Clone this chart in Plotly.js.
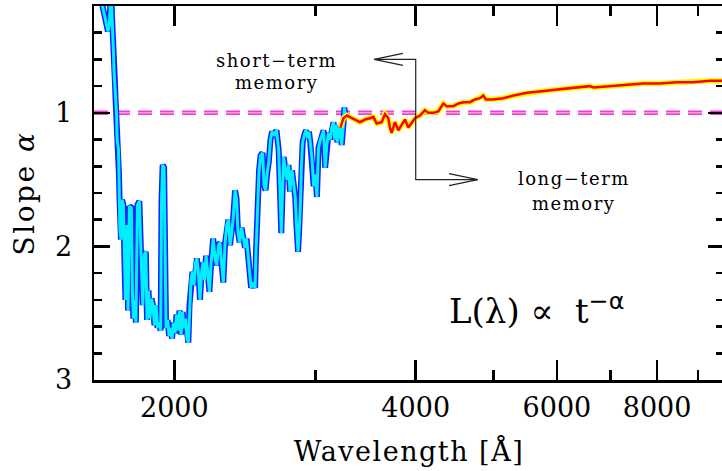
<!DOCTYPE html>
<html>
<head>
<meta charset="utf-8">
<script src="https://cdn.plot.ly/plotly-3.0.1.min.js"></script>
<style>
html,body{margin:0;padding:0;overflow:hidden;background:#fff;}
#chart{width:724px;height:471px;}
</style>
</head>
<body>
<div id="chart"></div>
<script>
// UV part of the slope spectrum (blue/cyan)
const blueWave = [1611,1630,1644,1653,1660,1663,1668,1672,1675,1680,1682,1687,1689,1694,1697,1704,1706,1709,1711,1716,
1721,1728,1733,1738,1746,1751,1758,1768,1773,1778,1786,1791,1799,1809,1817,1827,1835,1843,1849,1857,
1865,1873,1881,1889,1898,1906,1914,1923,1928,1934,1942,1948,1953,1962,1970,1978,1987,1995,2004,2013,
2021,2030,2039,2048,2056,2065,2074,2082,2089,2098,2107,2116,2125,2134,2144,2153,2162,2172,2181,2191,
2200,2212,2223,2236,2248,2259,2271,2280,2290,2302,2314,2325,2336,2347,2357,2368,2381,2391,2401,2412,
2426,2436,2450,2461,2474,2486,2493,2508,2522,2529,2540,2551,2562,2577,2588,2599,2610,2623,2636,2648,
2663,2682,2699,2709,2719,2728,2738,2752,2764,2776,2788,2804,2816,2830,2840,2853,2862,2872,2881,2891,
2907,2919,2932,2944,2955,2970,2984,2999,3012,3026,3042,3055,3070,3084,3099,3114,3130,3143,3159,3171,
3184,3193,3207,3218,3226,3234,3250,3259,3266];
const blueAlpha = [0.08,0.23,0.34,0.39,0.34,0.12,0.04,0.27,0.47,0.57,0.69,0.79,0.88,1.00,1.20,1.28,1.46,1.65,1.88,1.95,
1.65,1.69,2.10,2.40,1.84,2.48,1.70,1.71,2.33,2.54,2.40,2.57,1.69,1.66,2.03,2.44,2.06,2.04,2.55,2.33,
2.54,2.39,2.44,2.59,2.44,2.61,2.57,2.63,1.65,1.39,1.41,2.33,2.61,2.55,2.67,2.61,2.69,2.57,2.65,2.51,
2.63,2.48,2.66,2.49,2.61,2.54,2.69,2.72,2.44,2.25,2.19,2.29,2.12,2.09,2.21,2.40,2.21,2.12,2.25,2.07,
2.18,2.34,2.12,1.94,2.09,2.14,1.99,1.97,2.12,2.27,1.97,1.84,1.80,1.99,1.91,1.79,1.58,1.64,1.89,1.97,
1.86,1.92,2.01,1.94,2.09,2.21,2.31,2.27,2.31,2.03,1.64,1.43,1.32,1.30,1.54,1.58,1.46,1.37,1.20,1.14,
1.17,1.13,1.28,1.58,1.90,1.61,1.33,1.44,1.50,1.39,1.59,1.43,1.54,1.63,1.84,2.04,1.88,1.70,1.39,1.22,
1.16,1.13,1.19,1.14,1.22,1.35,1.55,1.46,1.63,1.26,1.20,1.16,1.13,1.41,1.24,1.15,1.20,1.11,1.07,1.20,
1.09,1.22,1.13,1.11,1.16,1.24,1.09,0.96,1.01];

// optical part (red/yellow)
const redWave = [3223,3250,3283,3312,3360,3408,3458,3508,3542,3576,3627,3662,3697,3715,3733,3769,3805,3842,3879,3916,
3954,3992,4049,4107,4147,4206,4268,4330,4373,4457,4523,4589,4675,4741,4811,4856,4894,4996,5144,5299,
5508,5715,5882,6172,6411,6589,6668,6988,7330,7689,8066,8463,8878,9311,9780];
const redAlpha = [1.11,1.04,1.02,1.03,1.05,1.07,1.05,1.04,1.03,1.08,1.07,1.01,1.04,1.11,1.15,1.07,1.13,1.09,1.05,1.11,
1.07,1.04,1.02,0.98,1.00,1.00,0.99,0.93,0.95,0.95,0.93,0.92,0.92,0.90,0.89,0.87,0.90,0.90,0.89,0.87,
0.85,0.84,0.83,0.82,0.81,0.80,0.81,0.80,0.79,0.78,0.78,0.77,0.77,0.76,0.76];

// axes
const xRange = [1588, 9694];
const yRange = [3, 0.2];
const xMajorTicks = [2000, 4000, 6000, 8000];
const xTickLabels = ['2000', '4000', '6000', '8000'];
const xMinorTicks = [3000, 5000, 7000, 9000];
const yMajorTicks = [1, 2, 3];
const yTickLabels = ['1', '2', '3'];
const yMinorTicks = [0.4, 0.6, 0.8, 1.2, 1.4, 1.6, 1.8, 2.2, 2.4, 2.6, 2.8];

// reference line alpha = 1
const refAlpha = 1;

// memory bracket with arrows
const bracketWave = [3550, 4000, 4000, 4780];
const bracketAlpha = [0.6, 0.6, 1.5, 1.5];
const leftHeadWave = [3856, 3550, 3856];
const leftHeadAlpha = [0.555, 0.6, 0.645];
const rightHeadWave = [4401, 4780, 4401];
const rightHeadAlpha = [1.455, 1.5, 1.545];

const SERIF = 'DejaVu Serif';
const ls = (t, s) => '<span style="letter-spacing:' + s + 'px">' + t + '</span>';

const traces = [
  {x: [xRange[0], xRange[1]], y: [refAlpha, refAlpha], mode: 'lines',
   line: {color: '#ee3ae0', width: 4.5, dash: '14px,8px'}, hoverinfo: 'skip'},
  {x: [xRange[0], xRange[1]], y: [refAlpha, refAlpha], mode: 'lines',
   line: {color: '#ff9ed0', width: 1.5, dash: '14px,8px'}, hoverinfo: 'skip'},
  {x: blueWave, y: blueAlpha, mode: 'lines', line: {color: '#1020ff', width: 6}, hoverinfo: 'skip'},
  {x: blueWave, y: blueAlpha, mode: 'lines', line: {color: '#00f0ff', width: 3}, hoverinfo: 'skip'},
  {x: redWave, y: redAlpha, mode: 'lines', line: {color: '#ffff00', width: 5.5}, hoverinfo: 'skip'},
  {x: redWave, y: redAlpha, mode: 'lines', line: {color: '#ff0000', width: 2.5}, hoverinfo: 'skip'},
  {x: bracketWave, y: bracketAlpha, mode: 'lines', line: {color: '#222', width: 1.2}, hoverinfo: 'skip'},
  {x: leftHeadWave, y: leftHeadAlpha, mode: 'lines', line: {color: '#222', width: 1.2}, hoverinfo: 'skip'},
  {x: rightHeadWave, y: rightHeadAlpha, mode: 'lines', line: {color: '#222', width: 1.2}, hoverinfo: 'skip'}
];

const ann = (xw, ya, text, size) => ({
  x: Math.log10(xw), y: ya, xref: 'x', yref: 'y', text: text, showarrow: false,
  xanchor: 'center', yanchor: 'middle', font: {family: SERIF, size: size, color: '#000'}
});

const layout = {
  width: 724, height: 471,
  margin: {l: 94, r: 0, t: 6, b: 91},
  paper_bgcolor: '#fff', plot_bgcolor: '#fff',
  showlegend: false,
  xaxis: {
    type: 'log', range: [Math.log10(xRange[0]), Math.log10(xRange[1])],
    tickmode: 'array', tickvals: xMajorTicks, ticktext: xTickLabels,
    ticks: 'inside', ticklen: 20, tickwidth: 2.5, tickcolor: '#000',
    minor: {tickmode: 'array', tickvals: xMinorTicks, ticks: 'inside', ticklen: 10, tickwidth: 2.5, tickcolor: '#000', showgrid: false},
    showline: true, linewidth: 2.5, linecolor: '#000', mirror: 'ticks',
    showgrid: false, zeroline: false,
    ticklabelstandoff: 2,
    tickfont: {family: SERIF, size: 27, color: '#000'},
    title: {text: ls('Wavelength [Å]', 1.5), font: {family: SERIF, size: 27, color: '#000'}, standoff: 20}
  },
  yaxis: {
    range: yRange,
    tickmode: 'array', tickvals: yMajorTicks, ticktext: yTickLabels,
    ticks: 'inside', ticklen: 16, tickwidth: 2.5, tickcolor: '#000',
    minor: {tickmode: 'array', tickvals: yMinorTicks, ticks: 'inside', ticklen: 8, tickwidth: 2.5, tickcolor: '#000', showgrid: false},
    showline: true, linewidth: 2.5, linecolor: '#000', mirror: 'ticks',
    showgrid: false, zeroline: false,
    ticklabelstandoff: 14,
    tickfont: {family: SERIF, size: 27, color: '#000'},
    title: {text: ls('Slope <i>α</i>', 2.5), font: {family: SERIF, size: 28, color: '#000'}, standoff: 12}
  },
  annotations: [
    ann(2685, 0.61, ls('short−term', 1.5), 18),
    ann(2685, 0.775, ls('memory', 1.5), 18),
    ann(6301, 1.494, ls('long−term', 1.5), 18),
    ann(6301, 1.682, ls('memory', 1.5), 18),
    ann(5659, 2.468, 'L(λ) ∝  t<sup><span style="font-family:DejaVu Sans">−α</span></sup>', 34)
  ]
};

Plotly.newPlot('chart', traces, layout, {staticPlot: true, displayModeBar: false});
</script>
</body>
</html>
